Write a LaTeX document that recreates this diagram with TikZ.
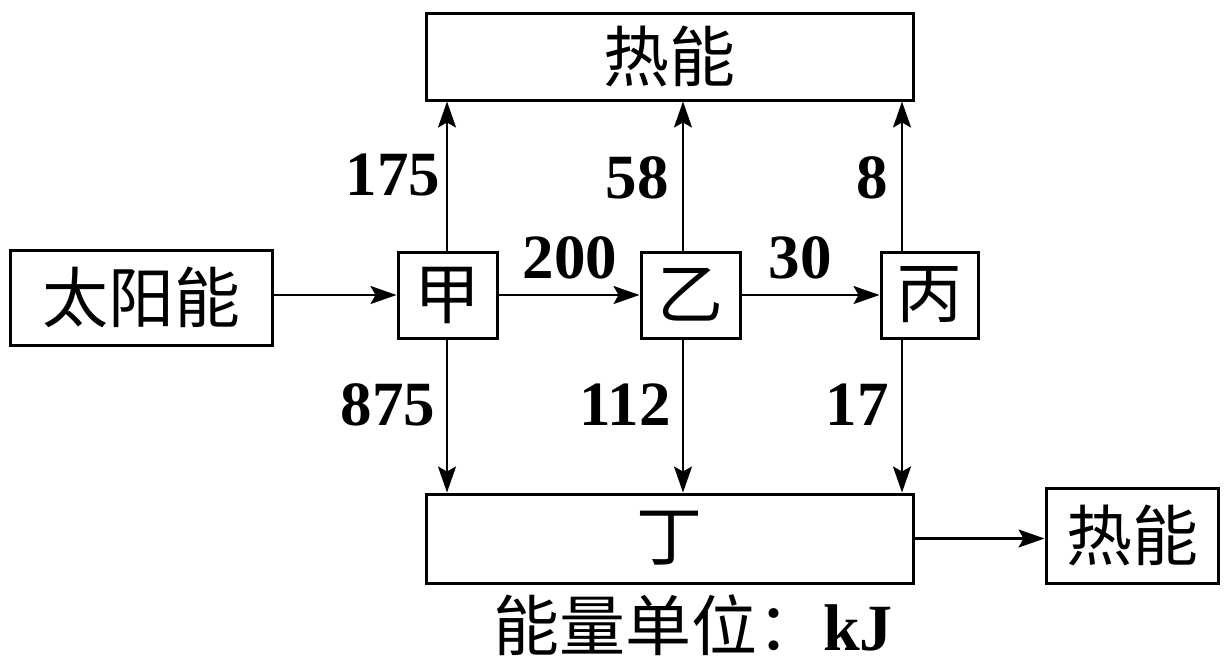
\documentclass[tikz,border=0pt]{standalone}
\usepackage{fontspec}
\setmainfont{Liberation Serif}
\newfontfamily\cjk{Noto Sans CJK SC}
\usetikzlibrary{arrows.meta,calc}
\tikzset{
  box/.style={draw, line width=3pt, inner sep=0pt, font=\cjk\fontsize{66}{70}\selectfont},
  arr/.style={line width=2.2pt, -{Stealth[length=26pt,width=18pt,inset=5pt]}},
  num/.style={font=\bfseries\fontsize{63}{66}\selectfont, inner sep=0pt}
}
\begin{document}
\begin{tikzpicture}[x=1pt,y=-1pt]
\useasboundingbox (0,0) rectangle (1228,670);
\node[box, minimum width=487pt, minimum height=87pt] (top) at (669.5,56.5) {热能};
\node[box, minimum width=262pt, minimum height=95pt] (sun) at (141,297.5) {太阳能};
\node[box, minimum width=99pt, minimum height=86pt] (jia) at (447.5,295) {甲};
\node[box, minimum width=99pt, minimum height=86pt] (yi) at (690.5,295) {乙};
\node[box, minimum width=97pt, minimum height=86pt] (bing) at (929.5,295) {丙};
\node[box, minimum width=487pt, minimum height=89pt] (ding) at (669.5,538.5) {丁};
\node[box, minimum width=172pt, minimum height=95pt] (re) at (1132,535.5) {热能};
\node[font=\cjk\fontsize{66}{70}\selectfont, inner sep=0pt] (unit) at (693,625) {能量单位：{\rmfamily\bfseries kJ}};

\draw[arr] (jia.west -| sun.east) -- (jia.west);
\draw[arr] (jia.east) -- (yi.west);
\draw[arr] (yi.east) -- (bing.west);
\draw[arr] (ding.east) -- (ding.east -| re.west);

\draw[arr] (jia.north -| 447,0) -- (top.south -| 447,0);
\draw[arr] (yi.north -| 683,0) -- (top.south -| 683,0);
\draw[arr] (bing.north -| 902,0) -- (top.south -| 902,0);
\draw[arr] (jia.south -| 447,0) -- (ding.north -| 447,0);
\draw[arr] (yi.south -| 683,0) -- (ding.north -| 683,0);
\draw[arr] (bing.south -| 902,0) -- (ding.north -| 902,0);

\node[num] (n175) at (393,175) {175};
\node[num] (n58) at (637,178) {58};
\node[num] (n8) at (872,178) {8};
\node[num] (n875) at (388,405) {875};
\node[num] (n112) at (625,405) {112};
\node[num] (n17) at (857,405) {17};
\node[num] (n200) at (570,258) {200};
\node[num] (n30) at (800,258) {30};
\end{tikzpicture}
\end{document}
